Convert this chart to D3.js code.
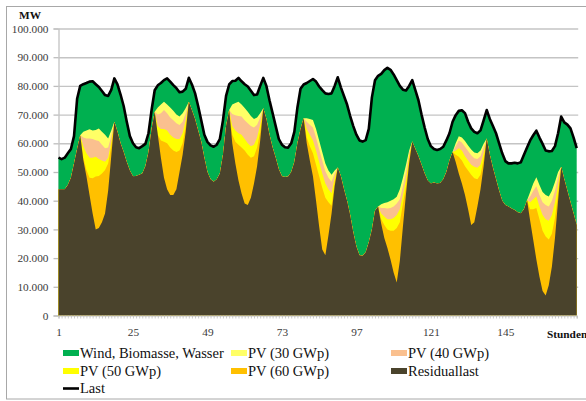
<!DOCTYPE html>
<html><head><meta charset="utf-8">
<script src="https://cdn.jsdelivr.net/npm/d3@7/dist/d3.min.js"></script>
<style>
body{margin:0;background:#fff}
svg{display:block}
text{font-family:"Liberation Serif","Times New Roman",serif}
</style>
</head><body>
<svg id="c" width="586" height="401"></svg>
<script>
// values in 1.000 MW, hours 1..168
const hours = d3.range(1, 169);
const xTickLabels = [1, 25, 49, 73, 97, 121, 145];
const yTicks = [0, 10, 20, 30, 40, 50, 60, 70, 80, 90, 100];

const last = [
55.0,54.5,55.0,56.5,58.0,62.5,75.5,80.0,80.6,81.0,
81.5,81.6,80.6,79.6,78.2,76.8,76.5,78.6,82.6,80.5,
77.0,73.0,67.5,62.5,60.0,58.6,58.3,59.0,59.8,63.5,
71.6,78.5,80.2,81.0,82.0,82.6,81.5,80.3,79.2,77.8,
78.0,79.0,82.8,80.5,77.5,73.0,68.0,63.0,60.5,59.3,
58.8,59.5,61.5,68.0,76.5,80.5,81.7,81.8,82.8,81.6,
80.6,79.8,78.3,76.8,77.0,80.0,82.8,80.0,75.0,70.5,
66.0,61.5,59.5,58.6,58.5,60.0,64.0,72.5,79.0,80.5,
81.0,81.7,82.4,81.5,79.8,78.5,77.4,77.2,77.4,80.0,
83.0,79.5,76.5,73.5,69.5,66.0,63.0,61.0,60.6,61.1,
65.0,76.0,82.0,83.5,84.2,85.5,86.3,85.6,84.0,82.0,
80.0,78.7,78.4,80.0,82.0,78.5,75.0,70.0,65.5,61.5,
59.0,58.0,57.7,58.0,58.8,61.0,63.5,67.5,69.8,71.3,
71.5,70.5,67.5,65.2,64.0,63.5,64.5,68.0,71.6,68.5,
66.0,63.5,60.0,56.5,53.8,53.0,53.0,53.2,53.0,53.4,
56.0,58.5,61.0,62.8,64.4,62.0,59.8,57.5,57.2,57.3,
59.0,63.5,69.3,67.3,66.5,65.2,62.0,58.3];

const pv30 = [
44.0,44.0,44.0,45.5,48.0,53.0,58.0,62.8,64.0,64.5,
64.9,64.5,64.6,65.2,64.0,63.0,61.7,64.5,67.5,64.0,
60.0,57.0,53.5,50.5,48.5,48.6,49.0,49.5,52.0,57.0,
65.0,71.0,72.5,73.5,74.5,73.5,72.5,71.3,70.0,69.3,
70.5,72.3,74.5,71.5,68.5,64.5,60.5,55.0,50.0,47.5,
46.6,47.5,49.5,56.0,66.0,71.6,73.5,74.0,74.5,73.5,
72.3,71.0,69.5,68.5,69.0,70.5,72.2,68.5,63.0,58.5,
55.0,51.0,48.5,48.3,48.4,50.0,53.5,60.0,65.0,68.7,
68.7,68.5,68.1,65.0,61.0,57.0,53.0,50.5,49.0,50.5,
51.6,48.5,44.0,40.0,35.0,29.0,24.0,21.0,20.8,22.0,
25.5,30.0,36.5,38.0,38.8,39.2,39.5,40.0,40.5,41.4,
44.0,48.0,52.5,57.5,60.6,58.0,55.5,52.5,49.5,47.0,
46.0,46.3,46.0,46.2,47.5,50.0,54.0,57.0,60.0,62.5,
62.0,60.8,59.2,57.8,56.8,56.5,57.5,59.8,61.7,56.0,
51.5,47.5,43.5,40.0,38.5,38.0,37.3,36.8,36.0,35.6,
37.0,40.2,43.0,46.0,48.2,45.5,43.0,42.0,41.5,43.5,
46.5,50.0,51.8,47.5,43.5,39.5,35.5,31.5];

const pv40 = [
44.0,44.0,44.0,45.5,48.0,53.0,58.0,62.8,62.0,61.7,
61.7,61.5,61.1,60.8,59.5,58.3,58.5,62.5,67.5,64.0,
60.0,57.0,53.5,50.5,48.5,48.6,49.0,49.5,52.0,57.0,
65.0,71.0,70.0,70.5,71.6,70.5,69.0,68.0,67.0,66.4,
67.5,70.5,74.5,71.5,68.5,64.5,60.5,55.0,50.0,47.5,
46.6,47.5,49.5,56.0,66.0,71.6,70.2,69.8,69.5,69.3,
68.0,67.0,66.0,65.5,66.5,69.0,72.2,68.5,63.0,58.5,
55.0,51.0,48.5,48.3,48.4,50.0,53.5,60.0,65.0,68.7,
67.5,66.5,65.5,62.0,58.0,54.0,50.3,48.0,46.6,49.5,
51.6,48.5,44.0,40.0,35.0,29.0,24.0,21.0,20.8,22.0,
25.5,30.0,36.5,38.0,37.5,37.5,37.3,37.5,38.0,39.0,
40.5,45.0,50.0,56.5,60.6,58.0,55.5,52.5,49.5,47.0,
46.0,46.3,46.0,46.2,47.5,50.0,54.0,57.0,59.0,61.0,
60.3,58.8,57.3,55.8,54.8,54.5,55.5,58.5,61.7,56.0,
51.5,47.5,43.5,40.0,38.5,38.0,37.3,36.8,36.0,35.6,
37.0,40.2,41.5,43.5,45.0,42.0,39.5,38.5,38.0,40.0,
43.5,48.0,51.8,47.5,43.5,39.5,35.5,31.5];

const pv50 = [
44.0,44.0,44.0,45.5,48.0,53.0,58.0,62.8,59.0,56.5,
55.0,55.0,55.3,54.5,54.0,53.6,55.0,60.5,67.5,64.0,
60.0,57.0,53.5,50.5,48.5,48.6,49.0,49.5,52.0,57.0,
65.0,71.0,66.0,65.0,65.0,64.5,63.0,62.0,61.5,61.5,
63.5,68.0,74.5,71.5,68.5,64.5,60.5,55.0,50.0,47.5,
46.6,47.5,49.5,56.0,66.0,71.6,66.0,64.5,63.5,63.0,
61.5,60.0,59.0,59.5,62.0,66.5,72.2,68.5,63.0,58.5,
55.0,51.0,48.5,48.3,48.4,50.0,53.5,60.0,65.0,68.7,
65.0,63.0,61.0,57.5,53.5,49.5,46.0,44.0,42.6,48.0,
51.6,48.5,44.0,40.0,35.0,29.0,24.0,21.0,20.8,22.0,
25.5,30.0,36.5,38.0,35.5,34.5,33.5,33.5,34.0,35.0,
37.0,42.0,47.5,55.5,60.6,58.0,55.5,52.5,49.5,47.0,
46.0,46.3,46.0,46.2,47.5,50.0,54.0,57.0,57.5,58.3,
57.5,55.5,54.0,52.5,51.8,51.5,52.5,56.5,61.7,56.0,
51.5,47.5,43.5,40.0,38.5,38.0,37.3,36.8,36.0,35.6,
37.0,40.2,39.5,40.5,41.5,38.0,35.0,33.5,33.0,35.0,
39.5,45.5,51.8,47.5,43.5,39.5,35.5,31.5];

const pv60 = [
44.0,44.0,44.0,45.5,48.0,53.0,58.0,62.8,55.0,50.7,
48.0,47.8,48.4,48.6,49.5,50.7,53.0,59.0,67.5,64.0,
60.0,57.0,53.5,50.5,48.5,48.6,49.0,49.5,52.0,57.0,
65.0,71.0,63.0,61.0,60.5,60.0,58.5,57.5,57.0,57.5,
60.0,66.0,74.5,71.5,68.5,64.5,60.5,55.0,50.0,47.5,
46.6,47.5,49.5,56.0,66.0,71.6,63.0,60.5,59.5,58.5,
57.5,56.0,55.0,55.5,58.5,64.0,72.2,68.5,63.0,58.5,
55.0,51.0,48.5,48.3,48.4,50.0,53.5,60.0,65.0,68.7,
62.0,59.0,56.5,52.5,48.5,44.5,41.0,39.5,38.2,46.5,
51.6,48.5,44.0,40.0,35.0,29.0,24.0,21.0,20.8,22.0,
25.5,30.0,36.5,38.0,33.5,31.5,30.0,29.5,29.5,30.5,
32.5,39.0,45.0,54.5,60.6,58.0,55.5,52.5,49.5,47.0,
46.0,46.3,46.0,46.2,47.5,50.0,54.0,57.0,56.0,55.3,
54.0,52.0,50.5,49.0,47.8,47.5,49.0,54.5,61.7,56.0,
51.5,47.5,43.5,40.0,38.5,38.0,37.3,36.8,36.0,35.6,
37.0,40.2,37.0,37.0,37.5,33.5,29.5,27.5,26.5,28.5,
34.0,42.5,51.8,47.5,43.5,39.5,35.5,31.5];

const residuallast = [
44.0,44.0,44.0,45.5,48.0,53.0,58.0,62.8,54.2,48.5,
42.0,35.5,30.0,30.5,32.5,35.5,43.5,55.5,67.5,64.0,
60.0,57.0,53.5,50.5,48.5,48.6,49.0,49.5,52.0,57.0,
65.0,71.0,63.0,55.0,48.0,44.0,42.0,42.0,44.0,50.0,
56.0,64.0,74.5,71.5,68.5,64.5,60.5,55.0,50.0,47.5,
46.6,47.5,49.5,56.0,66.0,71.6,60.0,53.0,47.0,42.5,
39.0,38.5,41.0,46.0,52.0,61.0,72.2,68.5,63.0,58.5,
55.0,51.0,48.5,48.3,48.4,50.0,53.5,60.0,65.0,68.7,
60.0,54.0,48.5,40.0,31.0,23.0,21.0,28.0,35.5,45.0,
51.6,48.5,44.0,40.0,35.0,29.0,24.0,21.0,20.8,22.0,
25.5,30.0,36.5,38.0,32.0,27.0,23.5,19.5,15.0,11.5,
19.0,31.0,42.5,53.0,60.6,58.0,55.5,52.5,49.5,47.0,
46.0,46.3,46.0,46.2,47.5,50.0,54.0,57.0,53.5,49.5,
46.0,42.0,37.0,31.5,32.5,38.0,44.0,52.0,61.7,56.0,
51.5,47.5,43.5,40.0,38.5,38.0,37.3,36.8,36.0,35.6,
37.0,40.2,33.0,26.3,19.5,13.5,8.5,7.0,10.5,17.0,
27.0,40.0,51.8,47.5,43.5,39.5,35.5,31.5];

const seriesNames = ["Wind, Biomasse, Wasser","PV (30 GWp)","PV (40 GWp)","PV (50 GWp)","PV (60 GWp)","Residuallast","Last"];
const seriesColors = ["#00B050","#FFFF66","#FAC08F","#FFFF00","#FFC000","#4A432C","#000000"];
const areaValues = [last, pv30, pv40, pv50, pv60, residuallast];

const svg = d3.select("#c");
svg.append("rect").attr("x",0).attr("y",0).attr("width",586).attr("height",401).attr("fill","#fff");
// outer frame
svg.append("rect").attr("x",6.5).attr("y",6.5).attr("width",590).attr("height",392.5)
  .attr("fill","none").attr("stroke","#A8A8A8").attr("stroke-width",1);

const x = d3.scaleLinear().domain([1,168]).range([58.5,576.7]);
const y = d3.scaleLinear().domain([0,100]).range([315.5,28.5]);
const fmt = v => v === 0 ? "0" : d3.format(",")(v*1000).replace(/,/g,".");

// gridlines + y axis
const yAxis = svg.append("g").attr("transform","translate(58.5,0)")
  .call(d3.axisLeft(y).tickValues(yTicks).tickSize(5).tickFormat(fmt).tickPadding(5));
yAxis.select(".domain").attr("stroke","#BDBDBD").attr("stroke-width",1.2);
yAxis.selectAll(".tick line").attr("stroke","#BDBDBD").attr("stroke-width",1.3);
yAxis.selectAll(".tick text").attr("font-size","11.3px").attr("fill","#3a3a3a")
  .attr("font-family","Liberation Serif, serif");
const grid = svg.append("g").attr("transform","translate(58.5,0)")
  .call(d3.axisRight(y).tickValues(yTicks.slice(1)).tickSize(x(168)-58.5+1.5).tickFormat(""));
grid.select(".domain").remove();
grid.selectAll(".tick line").attr("stroke","#C4C4C4").attr("stroke-width",1.4);

// areas (overlapping, drawn in series order)
areaValues.forEach((vals, i) => {
  const ar = d3.area().x((d,j)=>x(hours[j])).y0(y(0)).y1(d=>y(d));
  svg.append("path").datum(vals).attr("d", ar).attr("fill", seriesColors[i]);
});
// Last line
const ln = d3.line().x((d,j)=>x(hours[j])).y(d=>y(d));
svg.append("path").datum(last).attr("d", ln).attr("fill","none")
  .attr("stroke","#000").attr("stroke-width",2.6).attr("stroke-linejoin","round");

// x axis
const xAxis = svg.append("g").attr("transform","translate(0,315.5)")
  .call(d3.axisBottom(x).tickValues(hours).tickSize(3).tickFormat(d => xTickLabels.includes(d) ? d : "").tickPadding(9));
xAxis.select(".domain").attr("stroke","#BDBDBD").attr("stroke-width",1);
xAxis.selectAll(".tick line").attr("stroke","#BDBDBD").attr("stroke-width",0.8);
xAxis.selectAll(".tick text").attr("font-size","11.3px").attr("fill","#3a3a3a")
  .attr("font-family","Liberation Serif, serif");

svg.append("text").attr("x",547).attr("y",338).attr("font-size","11.3px").attr("font-weight","bold")
  .attr("fill","#111").text("Stunden");
svg.append("text").attr("x",30).attr("y",19).attr("text-anchor","middle").attr("font-size","11.3px")
  .attr("font-weight","bold").attr("fill","#111").text("MW");

// legend
const legX = [63, 231, 391];
const legY = [353, 371, 388.5];
seriesNames.forEach((n, i) => {
  const cx = legX[i % 3], cy = legY[Math.floor(i / 3)];
  const g = svg.append("g");
  if (i === 6) {
    g.append("line").attr("x1",cx).attr("x2",cx+16).attr("y1",cy).attr("y2",cy)
      .attr("stroke","#000").attr("stroke-width",2.6);
  } else {
    g.append("rect").attr("x",cx).attr("y",cy-3).attr("width",16).attr("height",6).attr("fill",seriesColors[i]);
  }
  g.append("text").attr("x",cx+17).attr("y",cy).attr("dy","0.34em").attr("font-size","14.5px")
    .attr("fill","#111").text(n);
});
</script>
</body></html>
